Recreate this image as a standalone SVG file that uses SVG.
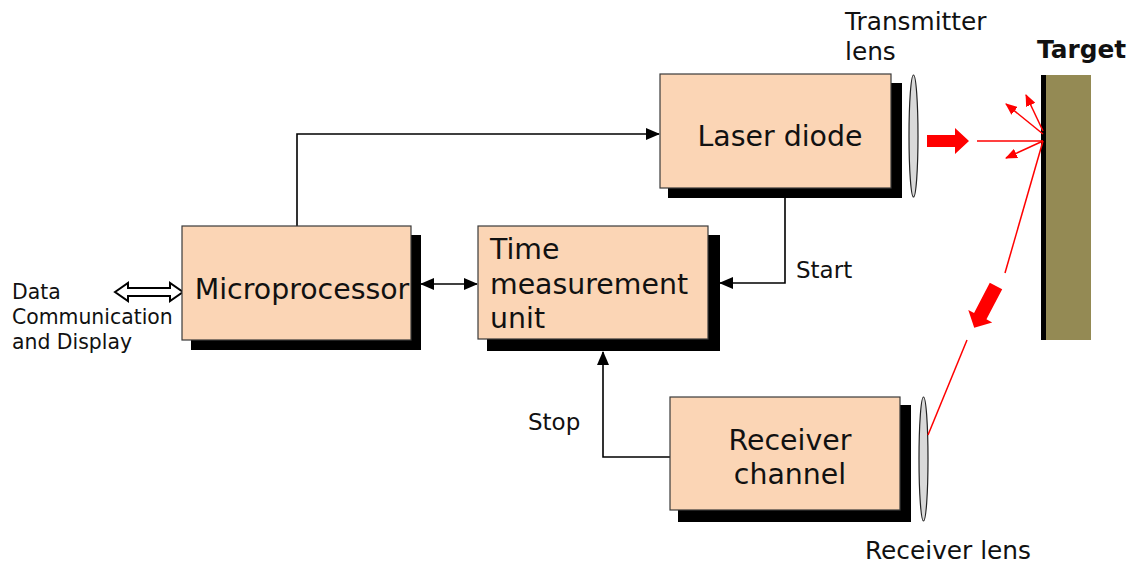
<svg xmlns="http://www.w3.org/2000/svg" width="1134" height="563" viewBox="0 0 1134 563">
<style>
.box{fill:#FBD5B5;stroke:#3a3a3a;stroke-width:1.2}
.sh{fill:#000}
.t{font-family:"DejaVu Sans",Verdana,sans-serif;fill:#111}
.big{font-size:28.4px}
.mid{font-size:24.8px}
.lbl{font-size:23px}
.sm{font-size:20.4px}
.conn{fill:none;stroke:#000;stroke-width:1.6}
.red{fill:none;stroke:#f00;stroke-width:1.5}
.lens{fill:#d9d9d9;stroke:#222;stroke-width:1.2}
</style>
<defs>
<marker id="ah" markerWidth="14" markerHeight="12" refX="13" refY="6" orient="auto-start-reverse" markerUnits="userSpaceOnUse">
<path d="M0,0 L14,6 L0,12 Z" fill="#000"/>
</marker>
<marker id="rh" markerWidth="12" markerHeight="10" refX="11" refY="5" orient="auto" markerUnits="userSpaceOnUse">
<path d="M0,0 L12,5 L0,10 Z" fill="#f00"/>
</marker>
</defs>

<g id="connectors">
<polyline class="conn" points="297,226 297,134 659,134" marker-end="url(#ah)"/>
<polyline class="conn" points="785,190 785,283 720,283" marker-end="url(#ah)"/>
<line class="conn" x1="421" y1="284" x2="477" y2="284" marker-start="url(#ah)" marker-end="url(#ah)"/>
<polyline class="conn" points="670,457 603,457 603,352" marker-end="url(#ah)"/>
<polygon points="115,292 128,283 128,288 170,288 170,283 183,292 170,301 170,296 128,296 128,301" fill="#fff" stroke="#000" stroke-width="2"/>
</g>

<g id="microprocessor">
<rect class="sh" x="191" y="235" width="230" height="115"/>
<rect class="box" x="182" y="226" width="229" height="114"/>
<text class="t big" x="302" y="299" text-anchor="middle">Microprocessor</text>
</g>

<g id="time-measurement">
<rect class="sh" x="487" y="235" width="233" height="116"/>
<rect class="box" x="478" y="226" width="230" height="113"/>
<text class="t big" x="490" y="259">Time</text>
<text class="t big" x="490" y="294">measurement</text>
<text class="t big" x="490" y="328">unit</text>
</g>

<g id="laser-diode">
<rect class="sh" x="668" y="83" width="234" height="115"/>
<rect class="box" x="660" y="74" width="231" height="114"/>
<text class="t big" x="780" y="146" text-anchor="middle">Laser diode</text>
</g>

<g id="receiver-channel">
<rect class="sh" x="678" y="405" width="233" height="117"/>
<rect class="box" x="670" y="397" width="230" height="113"/>
<text class="t big" x="790" y="450" text-anchor="middle">Receiver</text>
<text class="t big" x="790" y="484" text-anchor="middle">channel</text>
</g>

<g id="transmitter-lens">
<ellipse class="lens" cx="913.5" cy="136" rx="4.5" ry="61"/>
<text class="t mid" x="845" y="30">Transmitter</text>
<text class="t mid" x="845" y="60">lens</text>
</g>

<g id="receiver-lens">
<ellipse class="lens" cx="923.5" cy="459" rx="4.5" ry="62"/>
<text class="t mid" x="865" y="559">Receiver lens</text>
</g>

<g id="target">
<rect x="1045" y="75" width="46" height="265" fill="#948A54"/>
<rect x="1041" y="75" width="5" height="265" fill="#000"/>
<text class="t mid" x="1037" y="58" font-weight="bold" fill="#000">Target</text>
</g>

<g id="beams">
<polygon points="927,135 955,135 955,128 969,141 955,154 955,147 927,147" fill="#f00"/>
<line class="red" x1="977" y1="141" x2="1043" y2="141"/>
<line class="red" x1="1043" y1="134" x2="1006" y2="104" marker-end="url(#rh)"/>
<line class="red" x1="1043" y1="131" x2="1026" y2="95" marker-end="url(#rh)"/>
<line class="red" x1="1043" y1="141" x2="1006" y2="158" marker-end="url(#rh)"/>
<line class="red" x1="1043" y1="141" x2="1005" y2="273"/>
<polygon points="0,-7 34,-7 34,-13.5 47,0 34,13.5 34,7 0,7" fill="#f00" transform="translate(996,286) rotate(117.6)"/>
<line class="red" x1="967" y1="340" x2="928" y2="435"/>
</g>

<g id="labels">
<text class="t lbl" x="796" y="278">Start</text>
<text class="t lbl" x="528" y="430">Stop</text>
<text class="t sm" x="12" y="299">Data</text>
<text class="t sm" x="12" y="324">Communication</text>
<text class="t sm" x="12" y="349">and Display</text>
</g>
</svg>
